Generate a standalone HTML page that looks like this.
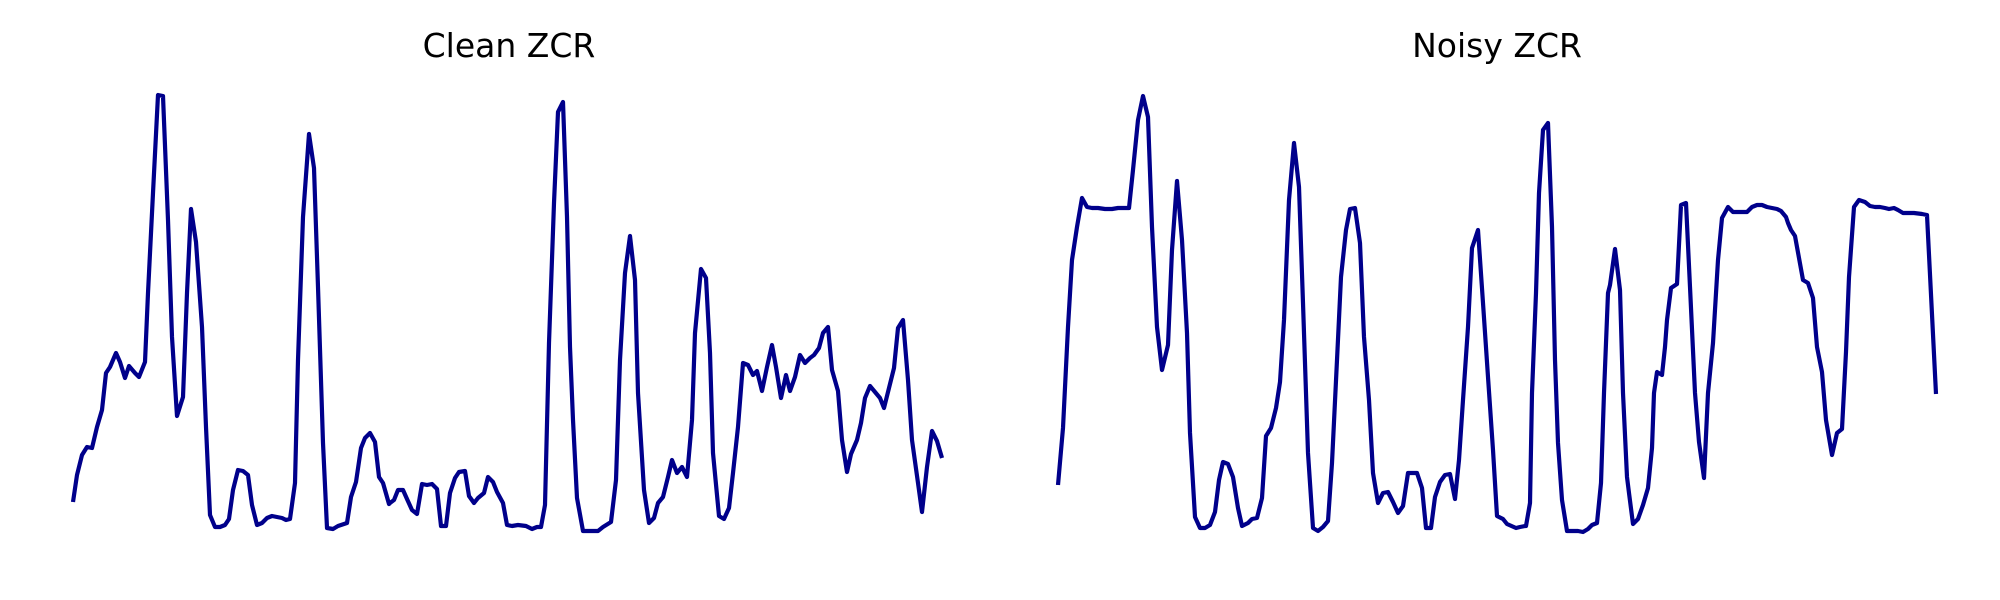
<!DOCTYPE html>
<html><head><meta charset="utf-8"><style>
html,body{margin:0;padding:0;background:#fff;}
svg{display:block;}
</style></head><body>
<svg id="chart" width="2000" height="600" viewBox="0 0 2000 600" xmlns="http://www.w3.org/2000/svg">
<rect width="2000" height="600" fill="#fff"/>
<text x="509" y="57" text-anchor="middle" font-family="DejaVu Sans, Liberation Sans, sans-serif" font-size="33" fill="#000">Clean ZCR</text>
<text x="1497" y="57" text-anchor="middle" font-family="DejaVu Sans, Liberation Sans, sans-serif" font-size="33" fill="#000">Noisy ZCR</text>
<g id="plots"></g>
</svg>
<script>
// time (ms) and ZCR (x1000) for the clean signal
const cleanTime = [0,4,9,14,19,24,29,33,37,43,47,52,56,62,66,72,75,80,85,90,95,99,104,110,114,118,123,129,133,137,142,147,152,156,160,165,170,175,179,184,189,194,199,204,209,213,217,222,225,230,236,241,245,250,254,260,265,274,278,283,288,292,297,302,306,310,316,
317,321,325,330,334,339,344,349,354,359,364,368,373,377,382,386,392,396,401,405,411,415,420,424,430,434,439,445,453,459,464,468,472,476,481,485,490,494,497,500,504,510,520,525,530,538,543,547,552,557,562,565,571,576,581,585,590,595,599,604,609,614,619,622,628,633,637,640,646,651,656,660,665,670,
675,680,684,689,694,699,703,708,713,717,722,727,732,737,741,746,750,
755,759,765,769,774,778,784,788,792,797,802,807,811,816,821,825,830,835,839,845,849,854,859,864,869];
const cleanZcr = [58,85,105,113,112,133,150,187,193,207,198,182,194,187,183,198,267,367,465,464,340,223,144,163,267,351,318,233,133,45,33,33,35,41,70,90,89,85,55,35,37,42,44,43,42,40,41,77,200,343,426,392,273,117,32,31,34,37,63,78,112,122,127,118,83,77,56,
57,60,70,70,61,50,46,76,75,76,71,34,34,67,82,88,89,64,57,62,67,83,78,68,57,35,34,35,34,31,33,33,55,217,357,448,458,343,213,140,62,29,29,29,33,38,80,200,287,324,280,167,70,37,42,57,63,83,100,87,93,83,140,227,291,282,207,107,44,41,52,87,133,197,
195,185,189,169,193,215,193,162,185,169,183,205,197,202,205,212,227,
233,190,169,120,88,106,120,137,162,174,168,162,152,172,192,232,240,180,120,77,48,93,129,119,102];
// time (ms) and ZCR (x1000) for the noisy signal
const noisyTime = [0,5,10,14,19,24,29,34,40,47,54,60,65,71,75,80,85,90,94,99,104,110,114,
119,124,129,132,137,142,147,152,157,161,165,170,175,180,184,190,194,199,204,208,213,218,222,226,231,236,241,245,250,255,260,265,270,274,279,283,288,292,297,302,306,311,315,320,325,330,335,340,345,350,354,359,364,368,373,377,382,387,392,397,401,405,410,414,420,425,430,435,439,445,449,458,462,467,
468,472,474,478,481,485,490,494,497,500,504,509,515,520,525,530,534,539,543,546,550,552,557,562,565,569,571,575,580,585,590,594,596,599,604,607,609,613,619,623,628,632,637,641,646,650,655,660,664,670,675,680,685,689,694,699,704,709,714,719,723,728,730,733,737,741,745,750,755,759,764,768,774,779,784,788,791,796,801,807,812,817,822,827,831,836,840,845,850,856,864,869,878];
const noisyZcr = [75,132,233,300,333,362,353,352,352,351,351,352,352,352,390,440,464,443,333,233,190,215,310,
379,320,227,127,43,32,32,35,48,80,98,96,83,52,34,37,41,42,62,124,132,152,178,240,360,417,373,257,107,32,29,33,39,97,200,283,330,351,352,317,223,160,87,57,67,68,58,47,54,87,87,87,72,32,32,63,78,85,86,61,100,160,233,312,330,257,183,110,44,41,36,32,33,34,
34,57,167,267,367,430,437,333,200,117,60,29,29,29,28,31,35,37,77,167,267,275,311,270,167,83,67,36,41,55,72,112,167,188,185,213,240,272,276,355,357,273,167,118,82,167,217,300,342,353,348,348,348,348,353,355,355,353,352,351,349,343,337,330,324,302,280,277,262,213,188,140,105,127,131,208,283,353,360,358,354,353,353,352,351,352,350,347,347,347,346,345,166];

const yTop = 60, yBottom = 560, zMax = 500, tSpan = 880;
function xScale(start){ return t => start + (t / tSpan) * 880; }
function yScale(v){ return yBottom - (v / zMax) * (yBottom - yTop); }

const g = document.getElementById('plots');
function drawLine(times, vals, start, name){
  const xs = xScale(start);
  let d = '';
  for (let i = 0; i < times.length; i++) {
    d += (i ? 'L' : 'M') + xs(times[i]).toFixed(1) + ' ' + yScale(vals[i]).toFixed(1);
  }
  const p = document.createElementNS('http://www.w3.org/2000/svg', 'path');
  p.setAttribute('d', d);
  p.setAttribute('fill', 'none');
  p.setAttribute('stroke', '#00008b');
  p.setAttribute('stroke-width', '4.2');
  p.setAttribute('stroke-linejoin', 'round');
  
  
  g.appendChild(p);
}
drawLine(cleanTime, cleanZcr, 73, 'clean-zcr-line');
drawLine(noisyTime, noisyZcr, 1058, 'noisy-zcr-line');
</script>
</body></html>
